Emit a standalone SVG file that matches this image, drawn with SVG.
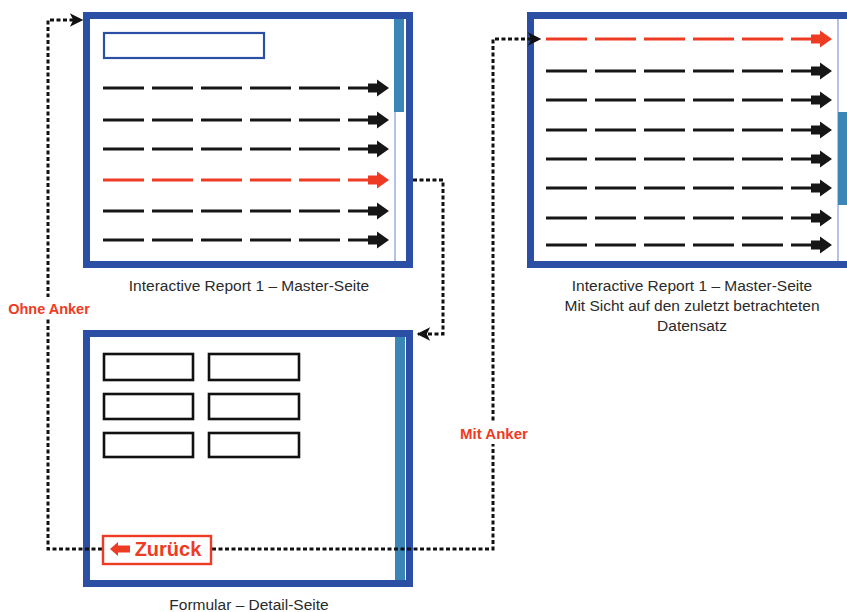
<svg xmlns="http://www.w3.org/2000/svg" xmlns:xlink="http://www.w3.org/1999/xlink" width="847" height="612" viewBox="0 0 847 612">
<style>
.win{fill:#fff;stroke:#2C4FA6;stroke-width:7}
.teal{fill:#3A86B7}
.track{stroke:#9AAEDC;stroke-width:1.5}
.cap{font-family:"Liberation Sans",Arial,sans-serif;font-size:15.5px;fill:#2a2a2a;text-anchor:middle}
.red{font-family:"Liberation Sans",Arial,sans-serif;font-weight:bold;fill:#EE3B24;text-anchor:middle}
.field{fill:#fff;stroke:#111;stroke-width:2.6}
.conn{fill:none;stroke:#111;stroke-width:3;stroke-dasharray:4 2.5}
.blk{color:#161616}
.hot{color:#EE3B24}
</style>
<defs>
<g id="row">
<line x1="0" y1="0" x2="266" y2="0" stroke="currentColor" stroke-width="3.2" stroke-dasharray="41 8"/>
<polygon points="265,-4.5 274,-4.5 274,-8.5 286,0 274,8.5 274,4.5 265,4.5" fill="currentColor"/>
</g>
<marker id="ah" viewBox="0 0 10 10" refX="9" refY="5" markerWidth="5" markerHeight="4.5" orient="auto" markerUnits="strokeWidth">
<path d="M0,0 L10,5 L0,10 L2.5,5 Z" fill="#111"/>
</marker>
</defs>

<g id="master1">
<rect class="win" x="86.5" y="15.5" width="323" height="249"/>
<rect class="teal" x="394" y="19" width="10" height="93"/>
<line class="track" x1="395" y1="112" x2="395" y2="261"/>
<rect x="104" y="33" width="160" height="25" fill="#fff" stroke="#2C4FA6" stroke-width="2.2"/>
<use xlink:href="#row" class="blk" x="103" y="88"/>
<use xlink:href="#row" class="blk" x="103" y="120"/>
<use xlink:href="#row" class="blk" x="103" y="149"/>
<use xlink:href="#row" class="hot" x="103" y="180"/>
<use xlink:href="#row" class="blk" x="103" y="211"/>
<use xlink:href="#row" class="blk" x="103" y="240"/>
<text class="cap" x="249" y="291">Interactive Report 1 – Master-Seite</text>
</g>

<g id="master2">
<rect class="win" x="530.5" y="15.5" width="330" height="249"/>
<line class="track" x1="838" y1="19" x2="838" y2="261"/>
<rect class="teal" x="838" y="112" width="12" height="93"/>
<use xlink:href="#row" class="hot" x="546" y="39"/>
<use xlink:href="#row" class="blk" x="546" y="71"/>
<use xlink:href="#row" class="blk" x="546" y="100"/>
<use xlink:href="#row" class="blk" x="546" y="130"/>
<use xlink:href="#row" class="blk" x="546" y="159"/>
<use xlink:href="#row" class="blk" x="546" y="188"/>
<use xlink:href="#row" class="blk" x="546" y="218"/>
<use xlink:href="#row" class="blk" x="546" y="245"/>
<text class="cap" x="692" y="291">Interactive Report 1 – Master-Seite</text>
<text class="cap" x="692" y="311">Mit Sicht auf den zuletzt betrachteten</text>
<text class="cap" x="692" y="331">Datensatz</text>
</g>

<g id="detail">
<rect class="win" x="86.5" y="333.5" width="323" height="250"/>
<rect class="teal" x="395" y="337" width="10" height="243"/>
<rect class="field" x="104" y="354" width="89" height="26"/>
<rect class="field" x="209" y="354" width="90" height="26"/>
<rect class="field" x="104" y="394" width="89" height="25"/>
<rect class="field" x="209" y="394" width="90" height="25"/>
<rect class="field" x="104" y="433" width="89" height="24"/>
<rect class="field" x="209" y="433" width="90" height="24"/>
<text class="cap" x="249" y="610">Formular – Detail-Seite</text>
</g>

<g id="connectors">
<path class="conn" d="M102,549 H48 V20 H82" marker-end="url(#ah)"/>
<path class="conn" d="M413,180 H443 V334 H418" marker-end="url(#ah)"/>
<path class="conn" d="M212,549 H493 V39 H540" marker-end="url(#ah)"/>
<rect x="4" y="297" width="90" height="22" fill="#fff"/>
<text class="red" x="49" y="314" font-size="14.5">Ohne Anker</text>
<rect x="455" y="423" width="78" height="21" fill="#fff"/>
<text class="red" x="494" y="439" font-size="15">Mit Anker</text>
</g>

<g id="zurueck">
<rect x="103" y="536" width="108" height="28" fill="#fff" stroke="#EE3B24" stroke-width="2.4"/>
<polygon points="110,549 118,542 118,545.5 130,545.5 130,552.5 118,552.5 118,556" fill="#EE3B24"/>
<text x="168" y="556" font-family="Liberation Sans,Arial,sans-serif" font-size="20" font-weight="bold" fill="#EE3B24" text-anchor="middle">Zurück</text>
</g>
</svg>
